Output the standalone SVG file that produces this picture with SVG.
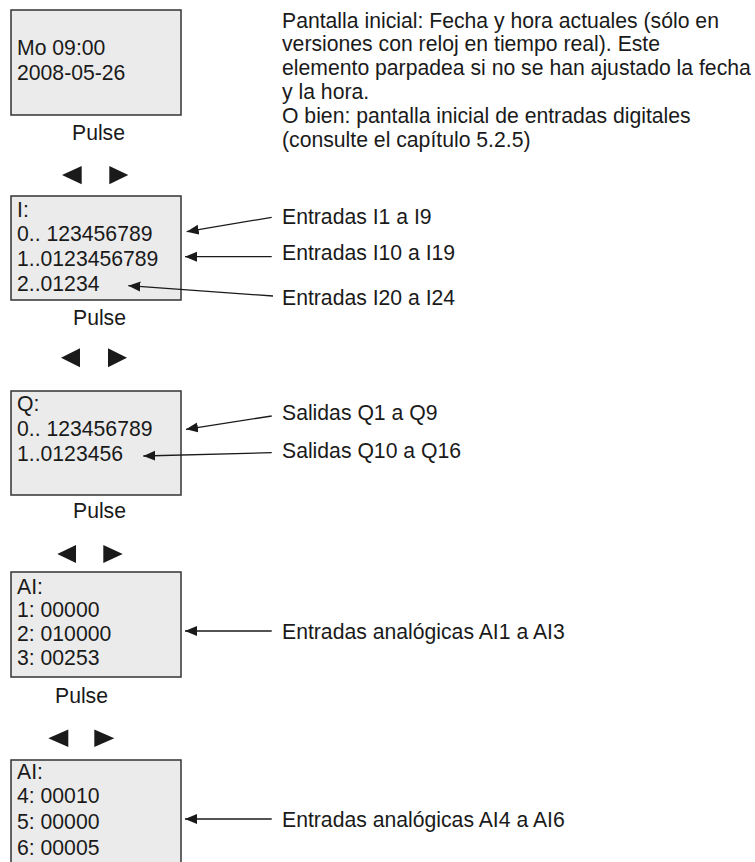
<svg xmlns="http://www.w3.org/2000/svg" width="755" height="862" viewBox="0 0 755 862">
<style>
text{font-family:"Liberation Sans",Arial,sans-serif;font-size:21.2px;fill:#1a1a1a}
.box{fill:#ebebeb;stroke:#333;stroke-width:1.5}
.con{stroke:#1a1a1a;stroke-width:1.3;fill:none;marker-end:url(#ah)}
.tri{fill:#1a1a1a}
</style>
<defs>
<marker id="ah" markerUnits="userSpaceOnUse" markerWidth="14" markerHeight="12" refX="12" refY="5" orient="auto">
<path d="M0,0 L12,5 L0,10 Z" fill="#1a1a1a"/>
</marker>
</defs>
<rect width="755" height="862" fill="#fff"/>
<g id="screen-datetime">
<rect class="box" x="11" y="10" width="170" height="105"/>
<text x="17" y="55">Mo 09:00</text>
<text x="17" y="80">2008-05-26</text>
</g>
<g id="desc-initial">
<text x="282" y="27.5">Pantalla inicial: Fecha y hora actuales (sólo en</text>
<text x="282" y="51.3">versiones con reloj en tiempo real). Este</text>
<text x="282" y="75.2">elemento parpadea si no se han ajustado la fecha</text>
<text x="282" y="99">y la hora.</text>
<text x="282" y="122.9">O bien: pantalla inicial de entradas digitales</text>
<text x="282" y="146.7">(consulte el capítulo 5.2.5)</text>
</g>
<g id="nav1">
<text x="72" y="140">Pulse</text>
<path class="tri" d="M62,175 L81.7,166 L81.7,184.3 Z"/>
<path class="tri" d="M128.3,175 L109.3,166 L109.3,184.3 Z"/>
</g>
<g id="screen-inputs">
<rect class="box" x="11" y="196" width="170" height="104"/>
<text x="17" y="216.7">I:</text>
<text x="17" y="240.7">0.. 123456789</text>
<text x="17" y="266">1..0123456789</text>
<text x="17" y="291">2..01234</text>
</g>
<g id="label-inputs">
<text x="282" y="224.3">Entradas I1 a I9</text>
<text x="282" y="260">Entradas I10 a I19</text>
<text x="282" y="305">Entradas I20 a I24</text>
</g>
<g id="nav2">
<text x="73" y="325">Pulse</text>
<path class="tri" d="M61,357.7 L80,348.3 L80,367.3 Z"/>
<path class="tri" d="M127,357.7 L108,348.3 L108,367.3 Z"/>
</g>
<g id="screen-outputs">
<rect class="box" x="11" y="391" width="170" height="104"/>
<text x="17" y="410.7">Q:</text>
<text x="17" y="435.7">0.. 123456789</text>
<text x="17" y="460.7">1..0123456</text>
</g>
<g id="label-outputs">
<text x="282" y="420">Salidas Q1 a Q9</text>
<text x="282" y="458">Salidas Q10 a Q16</text>
</g>
<g id="nav3">
<text x="73" y="517.5">Pulse</text>
<path class="tri" d="M57.3,554 L76,545 L76,563 Z"/>
<path class="tri" d="M122.7,554 L103.3,545 L103.3,563 Z"/>
</g>
<g id="screen-ai1">
<rect class="box" x="11" y="572" width="170" height="105"/>
<text x="17" y="594">AI:</text>
<text x="17" y="616.7">1: 00000</text>
<text x="17" y="640.7">2: 010000</text>
<text x="17" y="665">3: 00253</text>
</g>
<g id="label-ai1">
<text x="282" y="639.3">Entradas analógicas AI1 a AI3</text>
</g>
<g id="nav4">
<text x="55" y="703.3">Pulse</text>
<path class="tri" d="M48.3,738.3 L68.3,729.5 L68.3,747 Z"/>
<path class="tri" d="M114.3,738.3 L94.3,729.5 L94.3,747 Z"/>
</g>
<g id="screen-ai2">
<rect class="box" x="11" y="760" width="170" height="110"/>
<text x="17" y="779">AI:</text>
<text x="17" y="803.3">4: 00010</text>
<text x="17" y="829.3">5: 00000</text>
<text x="17" y="855">6: 00005</text>
</g>
<g id="label-ai2">
<text x="282" y="826.7">Entradas analógicas AI4 a AI6</text>
</g>
<g id="connectors">
<line class="con" x1="271.7" y1="217.3" x2="186.7" y2="231.7"/>
<line class="con" x1="271.7" y1="256.7" x2="185" y2="256.7"/>
<line class="con" x1="273" y1="296" x2="128.3" y2="285.7"/>
<line class="con" x1="271.7" y1="416" x2="186" y2="429.3"/>
<line class="con" x1="271.7" y1="452.7" x2="143.3" y2="456"/>
<line class="con" x1="271.7" y1="631" x2="185" y2="631"/>
<line class="con" x1="271.7" y1="819" x2="185" y2="819"/>
</g>
</svg>
